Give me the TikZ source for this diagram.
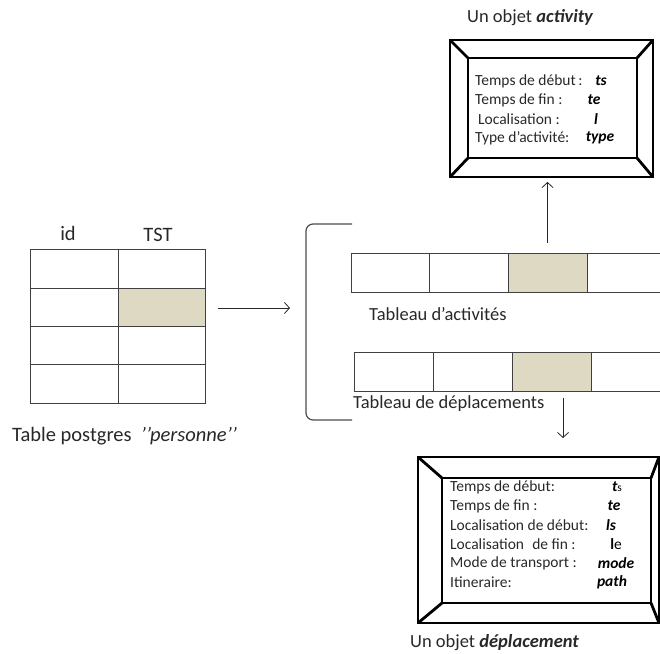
\documentclass[tikz,border=0pt]{standalone}
\usepackage{fontspec}
\setmainfont{Carlito}
\usetikzlibrary{arrows.meta}
\definecolor{tanshade}{RGB}{221,217,195}
\definecolor{txtgray}{RGB}{40,40,40}
\begin{document}
\begin{tikzpicture}[x=1pt,y=-1pt,
  cellline/.style={draw=black!75, line width=1pt},
  shadecell/.style={fill=tanshade, draw=none, inner sep=0pt},
  framebox/.style={line width=2.8pt, draw=black, line join=miter},
  lbl/.style={font=\fontsize{18.5}{22}\selectfont, text=txtgray, inner sep=0pt},
  biglbl/.style={font=\fontsize{20.5}{24}\selectfont, text=txtgray, inner sep=0pt},
  boxtxt/.style={font=\fontsize{15.5}{18}\selectfont, text=txtgray, inner sep=0pt, anchor=west},
  boxval/.style={font=\fontsize{15.5}{18}\selectfont\bfseries\itshape, text=black, inner sep=0pt},
  arr/.style={draw=black!85, line width=0.8pt, -{Straight Barb[length=5pt,width=11pt]}},
  brk/.style={draw=black!70, line width=1.2pt, rounded corners=7pt}]
\useasboundingbox (0,0) rectangle (660,653);

% ---------- left table ----------
\node[shadecell, minimum width=87pt, minimum height=38pt] (tstcell) at (161.5,307) {};
\draw[cellline] (30,249) rectangle (205,403);
\draw[cellline] (118,249) -- (118,403);
\draw[cellline] (30,288) -- (205,288);
\draw[cellline] (30,326) -- (205,326);
\draw[cellline] (30,364) -- (205,364);
\node[biglbl] (idlbl) at (68,233) {id};
\node[biglbl] (tstlbl) at (158,235) {TST};
\node[biglbl, anchor=west] (tablbl) at (12,436) {Table postgres\hspace{0.45em}\textit{'{}'personne'{}'}};

\coordinate (a1) at (218,308);
\coordinate (a2) at (290,308);
\draw[arr] (a1) -- (a2);

% ---------- bracket ----------
\coordinate (bt) at (352,224);
\coordinate (bb) at (352,420);
\draw[brk] (bt) -- (306,224) -- (306,420) -- (bb);

% ---------- activity array ----------
\node[shadecell, minimum width=79pt, minimum height=39pt] (actcell) at (547.5,272.5) {};
\draw[cellline] (351,253) -- (662,253);
\draw[cellline] (351,292) -- (662,292);
\foreach \x in {351,429,508,587} \draw[cellline] (\x,253) -- (\x,292);
\node[lbl, anchor=west] (actlbl) at (369,314) {Tableau d’activités};

% ---------- deplacement array ----------
\node[shadecell, minimum width=79pt, minimum height=39pt] (depcell) at (551.5,371.5) {};
\draw[cellline] (354,352) -- (662,352);
\draw[cellline] (354,391) -- (662,391);
\foreach \x in {354,433,512,591} \draw[cellline] (\x,352) -- (\x,391);
\node[lbl, anchor=west] (deplbl) at (353,404) {Tableau de déplacements};

% ---------- activity object ----------
\node[inner sep=0pt, minimum width=203pt, minimum height=137pt] (actbox) at (551.5,108.5) {};
\draw[framebox] (450,40) rectangle (653,177);
\draw[framebox] (468,58) rectangle (637,158);
\draw[framebox] (450,40) -- (468,58);
\draw[framebox] (653,40) -- (637,58);
\draw[framebox] (450,177) -- (468,158);
\draw[framebox] (653,177) -- (637,158);
\node[lbl, anchor=west] (acttitle) at (467,18) {Un objet \textbf{\textit{activity}}};
\node[boxtxt] (at1) at (475,81) {Temps de début\,:};
\node[boxtxt] (at2) at (475,100) {Temps de fin :};
\node[boxtxt] (at3) at (478,119) {Localisation :};
\node[boxtxt] (at4) at (475,138) {Type d’activité:};
\node[boxval] (av1) at (601,81) {ts};
\node[boxval] (av2) at (594,100) {te};
\node[boxval] (av3) at (596,119) {l};
\node[boxval] (av4) at (600,138) {type};

\draw[arr] (actcell.north |- 0,243) -- (actcell.north |- 0,182);

% ---------- deplacement object ----------
\coordinate (d1) at (563,398);
\coordinate (d2) at (563,438);
\draw[arr] (d1) -- (d2);
\node[inner sep=0pt, minimum width=241pt, minimum height=166pt] (depbox) at (538.5,540) {};
\draw[framebox] (418,457) rectangle (659,623);
\draw[framebox] (442,478) rectangle (651,603);
\draw[framebox] (418,457) -- (442,478);
\draw[framebox] (659,457) -- (651,478);
\draw[framebox] (418,623) -- (442,603);
\draw[framebox] (659,623) -- (651,603);
\node[lbl, anchor=west] (deptitle) at (410,643) {Un objet \textbf{\textit{déplacement}}};
\node[boxtxt] (dt1) at (450,487) {Temps de début:};
\node[boxtxt] (dt2) at (450,506) {Temps de fin :};
\node[boxtxt] (dt3) at (450,525) {Localisation de début:};
\node[boxtxt] (dt4) at (450,544) {Localisation\hspace{0.3em} de fin :};
\node[boxtxt] (dt5) at (450,563) {Mode de transport :};
\node[boxtxt] (dt6) at (450,582) {Itineraire:};
\node[boxval] (dv1) at (617,487) {t{\upshape\mdseries\fontsize{11.5}{13}\selectfont s}};
\node[boxval] (dv2) at (614,506) {te};
\node[boxval] (dv3) at (611,525) {ls};
\node[boxval] (dv4) at (616,544) {{\upshape l}{\upshape\mdseries e}};
\node[boxval] (dv5) at (616,563) {mode};
\node[boxval] (dv6) at (612,582) {path};
\end{tikzpicture}
\end{document}
